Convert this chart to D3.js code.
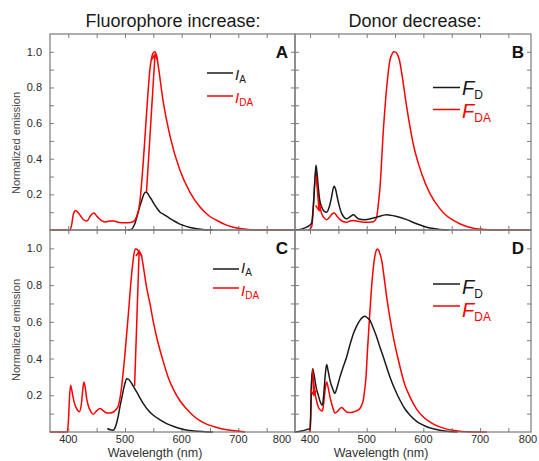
<!DOCTYPE html>
<html>
<head>
<meta charset="utf-8">
<script src="https://cdn.jsdelivr.net/npm/d3@7"></script>
<style>
body { margin: 0; background: #fff; }
svg { font-family: "Liberation Sans", Arial, sans-serif; }
</style>
</head>
<body>
<svg id="chart" width="539" height="461"></svg>
<script>
// ---- data: [wavelength nm, normalized emission] ----
const wavelengthTicks = [400, 500, 600, 700, 800];
const emissionTicks = [0.2, 0.4, 0.6, 0.8, 1.0];
const columnTitles = ["Fluorophore increase:", "Donor decrease:"];

// panel A
const fluorA_IA = [[505,0],[512,0.005],[516,0.025],[521,0.072],[525,0.12],[530,0.17],[534,0.205],[537,0.213],
  [540,0.205],[544,0.185],[548,0.165],[553,0.138],[558,0.115],[562,0.1],[568,0.088],[574,0.076],[585,0.054],
  [595,0.036],[603,0.026],[615,0.014],[627,0.007],[640,0.002],[655,0]];
const fluorA_IDA = [[367.7,0],[403,0],[406,0.03],[409,0.09],[413,0.11],[418,0.095],[426,0.06],[433,0.05],[439,0.08],
  [445,0.095],[451,0.075],[460,0.05],[466,0.045],[473,0.05],[480,0.05],[490,0.042],[500,0.04],[510,0.042],
  [516,0.05],[521,0.08],[526,0.15],[532,0.37],[538,0.65],[544,0.9],[550,0.995],[553,1.0],[556,0.975],
  [559,0.915],[567,0.73],[580,0.52],[597,0.335],[615,0.21],[632,0.13],[648,0.08],[662,0.054],[677,0.03],
  [691,0.016],[710,0.005],[730,0],[800,0]];
const fluorA_arrow = [[538,0.215],[553,0.985]];

// panel B
const donorB_FD = [[373.5,0],[385,0.005],[394,0.016],[400,0.028],[403,0.04],[405,0.1],[407,0.185],[409,0.3],
  [410.5,0.363],[412,0.33],[414.6,0.24],[417,0.17],[420.6,0.129],[425,0.105],[429.4,0.1],[434,0.13],[438,0.185],
  [441,0.235],[443,0.245],[445,0.23],[448,0.185],[452,0.13],[456,0.092],[460,0.072],[465,0.063],[471,0.075],
  [476.5,0.086],[481,0.075],[485,0.063],[497,0.058],[507,0.063],[517.6,0.072],[535,0.086],[553,0.076],
  [570.6,0.058],[588,0.035],[606,0.016],[618,0.008],[629,0.003],[645,0]];
const donorB_FDA = [[398,0],[403,0.02],[405,0.08],[407,0.2],[409,0.3],[410.5,0.33],[412,0.29],[414.6,0.204],
  [417,0.14],[420.6,0.092],[425,0.068],[429.4,0.058],[434,0.07],[439,0.09],[442.9,0.095],[447,0.08],[453,0.058],
  [458,0.048],[464.7,0.044],[470,0.05],[476.5,0.054],[482,0.05],[494,0.044],[505,0.044],[511.8,0.046],
  [515,0.055],[517.6,0.072],[520,0.13],[523.5,0.24],[529.4,0.56],[535.3,0.8],[541,0.953],[545,0.99],[548,1.0],
  [551,0.998],[554,0.987],[558,0.95],[561.8,0.88],[570.6,0.69],[582,0.485],[597,0.316],[611.7,0.204],
  [629,0.12],[641,0.08],[652.9,0.054],[665,0.034],[676.5,0.02],[690,0.009],[705.8,0.003],[720,0],[789.9,0]];
const donorB_arrow = [[411,0.3],[416,0.11]];

// panel C
const fluorC_IA = [[469,0.019],[474,0.012],[479.4,0.01],[482,0.02],[485,0.046],[488,0.085],[491,0.136],[494,0.18],
  [497,0.227],[500,0.265],[503,0.29],[506,0.288],[511.8,0.264],[520.6,0.218],[532.4,0.155],[541,0.118],
  [550,0.091],[562,0.066],[573.5,0.046],[585,0.031],[597,0.019],[610,0.01],[620.6,0.006],[640,0.002],[655,0]];
const fluorC_IDA = [[367.7,0],[398,0],[400,0.05],[402,0.18],[404,0.254],[406,0.23],[409,0.18],[412,0.146],
  [416,0.12],[419.4,0.11],[423,0.15],[425.5,0.23],[427.6,0.272],[430,0.24],[432,0.19],[435,0.146],[440,0.11],
  [444,0.097],[450,0.115],[455.9,0.128],[461,0.118],[467.7,0.104],[474,0.104],[479.4,0.109],[485,0.125],
  [488,0.14],[491,0.18],[494,0.245],[500,0.427],[506,0.644],[511.8,0.861],[515,0.95],[518,0.997],[521,0.995],
  [524,0.985],[529,0.96],[533,0.89],[538,0.79],[544,0.7],[550,0.6],[558,0.49],[567,0.39],[576,0.3],
  [585,0.235],[597,0.17],[609,0.125],[620,0.09],[632,0.062],[646,0.04],[662,0.025],[680,0.012],[703,0.004],[712,0]];
const fluorC_arrow = [[517,0.25],[525,0.985]];

// panel D
const donorD_FD = [[373.5,0],[385,0.005],[394,0.013],[400,0.019],[401,0.08],[402,0.21],[403.5,0.31],[404.7,0.345],
  [406,0.33],[408.8,0.28],[411,0.24],[414.6,0.2],[418,0.165],[421.7,0.146],[423.5,0.18],[425.2,0.245],
  [427.5,0.33],[429.4,0.368],[431.5,0.34],[435.3,0.28],[440,0.235],[444,0.21],[447,0.235],[452.9,0.3],
  [458,0.35],[464.7,0.41],[470,0.47],[476.5,0.535],[482,0.575],[488,0.608],[493,0.625],[497,0.63],[501,0.622],
  [505.9,0.608],[511,0.57],[517.6,0.517],[523,0.465],[529.4,0.408],[535,0.355],[541,0.3],[550,0.23],
  [558.8,0.173],[567,0.128],[576.5,0.091],[588,0.058],[600,0.037],[614,0.02],[629,0.01],[645,0.003],[660,0]];
const donorD_FDA = [[398,0],[400,0.01],[401.5,0.1],[402.5,0.25],[403.5,0.318],[405,0.3],[408.8,0.21],[411.5,0.17],
  [414.6,0.136],[418,0.12],[421.7,0.115],[423.5,0.14],[425.2,0.19],[427.5,0.25],[429.4,0.272],[431.5,0.25],
  [435.3,0.19],[440,0.135],[444,0.104],[448,0.11],[452,0.125],[455.9,0.133],[460,0.122],[464.7,0.109],
  [470,0.106],[476.5,0.109],[482,0.115],[488,0.128],[491,0.145],[494,0.173],[496.5,0.23],[498.8,0.3],
  [501.5,0.45],[504.7,0.608],[507.5,0.74],[510.6,0.861],[514,0.95],[517,0.99],[518.8,0.997],[521,0.99],
  [523.5,0.97],[526.5,0.934],[530,0.86],[535.3,0.734],[541,0.62],[547,0.517],[553,0.43],[558.8,0.354],
  [567,0.26],[576.5,0.19],[588,0.125],[600,0.082],[614,0.05],[629,0.028],[645,0.013],[660,0.006],[675,0.002],[712,0]];
const donorD_arrow = [[404.7,0.34],[406.8,0.2]];

// ---- layout ----
const svg = d3.select("#chart");
const RED = "#ff0000", BLACK = "#1a1a1a", FRAME = "#7a7a7a";

const cols = [
    { left: 50, right: 295, domain: [367.7, 800], labelMax: 282, xTitle: 155, title: 173 },
    { left: 295, right: 531, domain: [373.5, 789.9], labelMax: 528, xTitle: 381, title: 415 },
];
const rows = [
    { top: 34, bottom: 230, yTitle: 143 },
    { top: 230, bottom: 432, yTitle: 330 },
];

const panels = [
    { letter: "A", col: 0, row: 0, black: fluorA_IA, red: fluorA_IDA, arrow: fluorA_arrow, redOnTop: true,
      sym: "I", subB: "A", subR: "DA", leg: { x: 207, len: 26, l1: 73, l2: 96, t1: 80, t2: 103 } },
    { letter: "B", col: 1, row: 0, black: donorB_FD, red: donorB_FDA, arrow: donorB_arrow, redOnTop: false,
      sym: "F", subB: "D", subR: "DA", leg: { x: 433, len: 27, l1: 87.5, l2: 109.5, t1: 95, t2: 118 } },
    { letter: "C", col: 0, row: 1, black: fluorC_IA, red: fluorC_IDA, arrow: fluorC_arrow, redOnTop: true,
      sym: "I", subB: "A", subR: "DA", leg: { x: 213, len: 26, l1: 269, l2: 288, t1: 273, t2: 296 } },
    { letter: "D", col: 1, row: 1, black: donorD_FD, red: donorD_FDA, arrow: donorD_arrow, redOnTop: false,
      sym: "F", subB: "D", subR: "DA", leg: { x: 433, len: 27, l1: 284, l2: 306, t1: 294, t2: 317 } },
];

function drawPanel(p) {
    const c = cols[p.col], r = rows[p.row];
    const x = d3.scaleLinear().domain(c.domain).range([c.left, c.right]);
    const y = d3.scaleLinear().domain([0, 1.1]).range([r.bottom, r.top]);
    const g = svg.append("g").attr("class", "panel-" + p.letter);

    const minorX = d3.range(400, 801, 50).filter(v => v > c.domain[0] && v < c.domain[1]);
    const minorY = d3.range(1, 11).map(v => v / 10);

    // inward ticks on all four sides
    const tickStyle = sel => {
        sel.select(".domain").remove();
        sel.selectAll(".tick line").attr("stroke", FRAME).attr("stroke-width", 1);
        sel.selectAll(".tick text").attr("fill", "#2a2a2a").attr("font-size", 11);
    };
    g.append("g").attr("transform", `translate(0,${r.bottom})`)
        .call(d3.axisBottom(x).tickValues(minorX).tickSize(-4).tickFormat(""))
        .call(tickStyle);
    g.append("g").attr("transform", `translate(0,${r.top})`)
        .call(d3.axisTop(x).tickValues(minorX).tickSize(-4).tickFormat(""))
        .call(tickStyle);
    g.append("g").attr("transform", `translate(${c.left},0)`)
        .call(d3.axisLeft(y).tickValues(minorY).tickSize(-4).tickFormat(""))
        .call(tickStyle);
    g.append("g").attr("transform", `translate(${c.right},0)`)
        .call(d3.axisRight(y).tickValues(minorY).tickSize(-4).tickFormat(""))
        .call(tickStyle);

    // tick labels: x only on the bottom row, y only on the left column
    if (p.row === 1) {
        const lab = g.append("g").attr("transform", `translate(0,${r.bottom})`)
            .call(d3.axisBottom(x).tickValues(wavelengthTicks).tickSize(0).tickPadding(3))
            .call(tickStyle);
        lab.selectAll(".tick").attr("transform", d => `translate(${Math.min(x(d), c.labelMax)},0)`);
        g.append("text")
            .attr("x", c.xTitle).attr("y", 457)
            .attr("text-anchor", "middle").attr("font-size", 12.5).attr("fill", "#333")
            .text("Wavelength (nm)");
    }
    if (p.col === 0) {
        g.append("g").attr("transform", `translate(${c.left},0)`)
            .call(d3.axisLeft(y).tickValues(emissionTicks).tickSize(0).tickPadding(8).tickFormat(d3.format(".1f")))
            .call(tickStyle);
        g.append("text")
            .attr("transform", `translate(20,${r.yTitle}) rotate(-90)`)
            .attr("text-anchor", "middle").attr("font-size", 11).attr("fill", "#444")
            .text("Normalized emission");
    }

    const line = d3.line().x(d => x(d[0])).y(d => y(d[1])).curve(d3.curveMonotoneX);
    const drawCurve = (data, color) => g.append("path").datum(data)
        .attr("d", line).attr("fill", "none").attr("stroke", color)
        .attr("stroke-width", 1.5).attr("stroke-linejoin", "round");

    if (p.redOnTop) { drawCurve(p.black, BLACK); drawCurve(p.red, RED); }
    else { drawCurve(p.red, RED); drawCurve(p.black, BLACK); }

    // arrow from the first curve to the second
    const [a0, a1] = p.arrow.map(d => [x(d[0]), y(d[1])]);
    const ang = Math.atan2(a1[1] - a0[1], a1[0] - a0[0]);
    const hl = 6, hw = Math.PI / 6;
    const h1 = [a1[0] - hl * Math.cos(ang - hw), a1[1] - hl * Math.sin(ang - hw)];
    const h2 = [a1[0] - hl * Math.cos(ang + hw), a1[1] - hl * Math.sin(ang + hw)];
    g.append("path")
        .attr("d", `M${a0}L${a1}M${h1}L${a1}L${h2}`)
        .attr("fill", "none").attr("stroke", RED).attr("stroke-width", 1.5);

    // frame
    g.append("rect")
        .attr("x", c.left).attr("y", r.top)
        .attr("width", c.right - c.left).attr("height", r.bottom - r.top)
        .attr("fill", "none").attr("stroke", FRAME).attr("stroke-width", 1.2);

    // panel letter
    g.append("text")
        .attr("x", c.right - 7).attr("y", r.top + 24)
        .attr("text-anchor", "end").attr("font-size", 17).attr("font-weight", "bold").attr("fill", "#111")
        .text(p.letter);

    // legend
    const big = p.sym === "F" ? 20 : 15, small = p.sym === "F" ? 12 : 10, drop = p.sym === "F" ? 4 : 3;
    const entries = [
        { color: BLACK, ly: p.leg.l1, ty: p.leg.t1, sub: p.subB },
        { color: RED, ly: p.leg.l2, ty: p.leg.t2, sub: p.subR },
    ];
    for (let e of entries) {
        g.append("line")
            .attr("x1", p.leg.x).attr("x2", p.leg.x + p.leg.len)
            .attr("y1", e.ly).attr("y2", e.ly)
            .attr("stroke", e.color).attr("stroke-width", 1.5);
        const t = g.append("text")
            .attr("x", p.leg.x + p.leg.len + 2).attr("y", e.ty).attr("fill", e.color);
        t.append("tspan").attr("font-style", "italic").attr("font-size", big).text(p.sym);
        t.append("tspan").attr("font-size", small).attr("dy", drop).text(e.sub);
    }
}

panels.forEach(drawPanel);

// column titles
columnTitles.forEach((title, i) => {
    svg.append("text")
        .attr("x", cols[i].title).attr("y", 27)
        .attr("text-anchor", "middle").attr("font-size", 18).attr("fill", "#1a1a1a")
        .text(title);
});
</script>
</body>
</html>
